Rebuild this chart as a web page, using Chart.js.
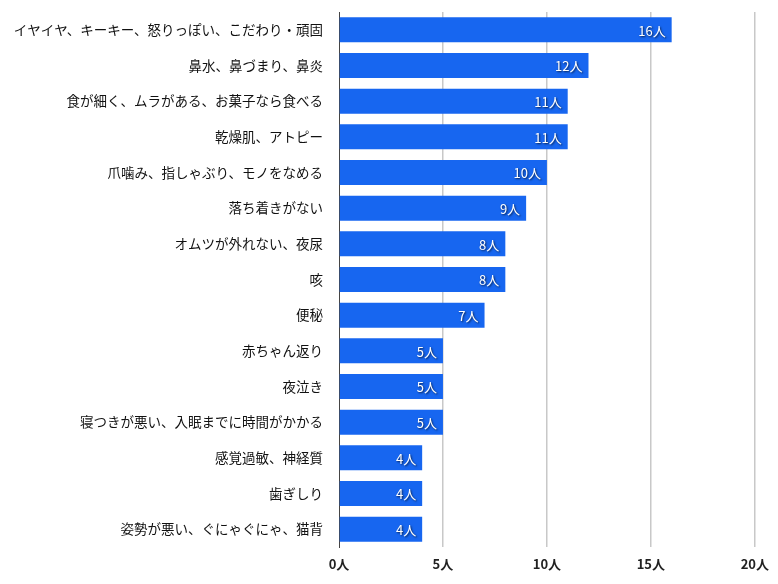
<!DOCTYPE html>
<html>
<head>
<meta charset="utf-8">
<script src="https://cdn.jsdelivr.net/npm/chart.js@4/dist/chart.umd.min.js"></script>
<style>
  html, body { margin: 0; padding: 0; background: #fff; }
  #wrap { width: 778px; height: 584px; }
</style>
</head>
<body>
<div id="wrap"><canvas id="barChart"></canvas></div>
<script>
// Data
const categories = [
  'イヤイヤ、キーキー、怒りっぽい、こだわり・頑固',
  '鼻水、鼻づまり、鼻炎',
  '食が細く、ムラがある、お菓子なら食べる',
  '乾燥肌、アトピー',
  '爪噛み、指しゃぶり、モノをなめる',
  '落ち着きがない',
  'オムツが外れない、夜尿',
  '咳',
  '便秘',
  '赤ちゃん返り',
  '夜泣き',
  '寝つきが悪い、入眠までに時間がかかる',
  '感覚過敏、神経質',
  '歯ぎしり',
  '姿勢が悪い、ぐにゃぐにゃ、猫背'
];
const counts = [16, 12, 11, 11, 10, 9, 8, 8, 7, 5, 5, 5, 4, 4, 4];
const tickValues = [0, 5, 10, 15, 20];
const unit = '人';

const fontFamily = '"Noto Sans CJK JP", "Noto Sans", sans-serif';

// White value labels at the end of each bar
const valueLabels = {
  id: 'valueLabels',
  afterDatasetsDraw(chart) {
    const {ctx} = chart;
    const meta = chart.getDatasetMeta(0);
    ctx.save();
    ctx.font = '13px ' + fontFamily;
    ctx.fillStyle = '#ffffff';
    ctx.textAlign = 'right';
    ctx.textBaseline = 'middle';
    ctx.shadowColor = 'rgba(0,0,0,0.7)';
    ctx.shadowBlur = 2;
    ctx.shadowOffsetX = 1;
    ctx.shadowOffsetY = 1;
    meta.data.forEach((bar, i) => {
      ctx.fillText(counts[i] + unit, bar.x - 6, bar.y + 1);
    });
    ctx.restore();
  }
};

const ctx = document.getElementById('barChart').getContext('2d');
new Chart(ctx, {
  type: 'bar',
  data: {
    labels: categories,
    datasets: [{
      data: counts,
      backgroundColor: '#1766F0',
      borderWidth: 0,
      categoryPercentage: 0.7,
      barPercentage: 1.0
    }]
  },
  options: {
    indexAxis: 'y',
    responsive: true,
    maintainAspectRatio: false,
    animation: false,
    layout: {padding: {top: 12, right: 19, left: 0, bottom: 0}},
    plugins: {
      legend: {display: false},
      tooltip: {enabled: false}
    },
    scales: {
      x: {
        min: 0,
        max: 20,
        afterBuildTicks: (scale) => {
          scale.ticks = tickValues.map(v => ({value: v}));
        },
        afterFit: (scale) => { scale.height = 37; },
        grid: {
          color: (c) => c.tick && c.tick.value === 0 ? 'rgba(0,0,0,0)' : '#c8c8c8',
          lineWidth: 1.5,
          drawTicks: false
        },
        border: {display: false},
        ticks: {
          padding: 9,
          color: '#222',
          font: {family: fontFamily, size: 13, weight: 'bold'},
          callback: (v) => v + unit
        }
      },
      y: {
        afterFit: (scale) => {
          scale.width = 339;
          scale.paddingTop = 0;
          scale.paddingBottom = 0;
        },
        grid: {display: false, drawTicks: false},
        border: {display: true, color: '#444', width: 1},
        ticks: {
          padding: 16,
          color: '#111',
          font: {family: fontFamily, size: 13.5}
        }
      }
    }
  },
  plugins: [valueLabels]
});
</script>
</body>
</html>
